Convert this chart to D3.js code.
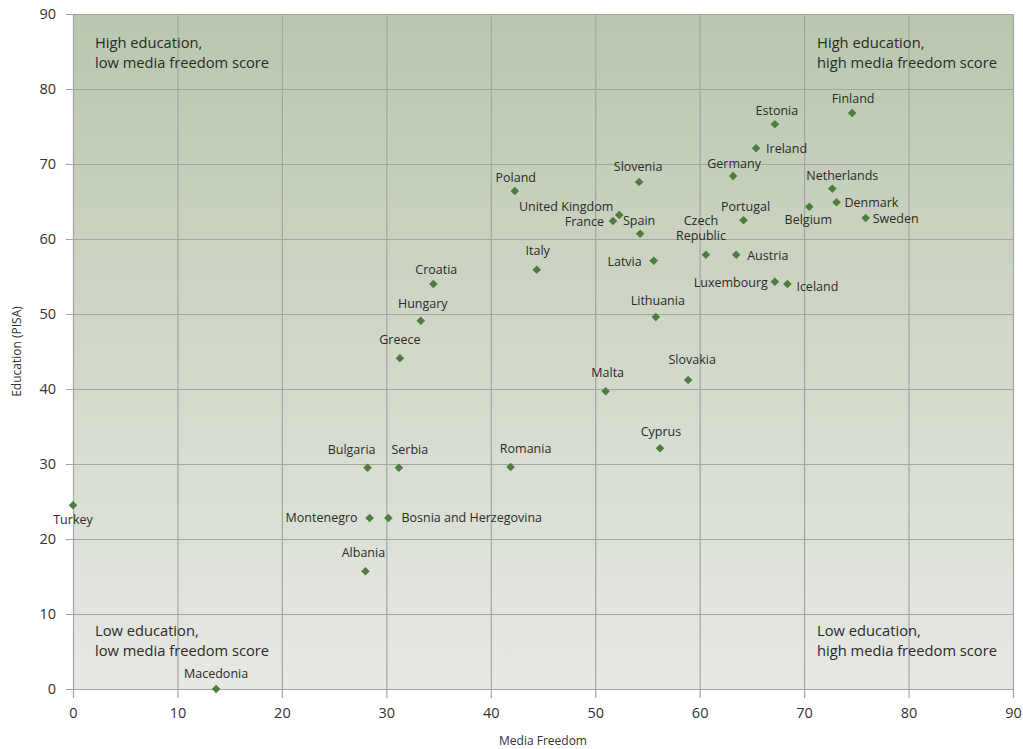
<!DOCTYPE html>
<html>
<head>
<meta charset="utf-8">
<script src="https://cdn.jsdelivr.net/npm/d3@7"></script>
<style>
  html, body { margin: 0; padding: 0; background: #ffffff; }
  svg { display: block; font-family: "Open Sans", "Noto Sans", sans-serif; }
</style>
</head>
<body>
<svg id="chart" width="1023" height="749"></svg>
<script>
// ---- Data ----
const countries = ["Turkey","Macedonia","Albania","Montenegro","Bosnia and Herzegovina","Bulgaria","Serbia","Romania",
  "Greece","Hungary","Croatia","Italy","Poland","United Kingdom","France","Slovenia","Spain","Latvia","Lithuania",
  "Malta","Slovakia","Cyprus","Czech Republic","Austria","Portugal","Germany","Ireland","Estonia","Finland",
  "Luxembourg","Iceland","Belgium","Netherlands","Denmark","Sweden"];
const mediaFreedom = [0.0,13.7,28.0,28.4,30.2,28.2,31.2,41.9,
  31.3,33.3,34.5,44.4,42.3,52.3,51.7,54.2,54.3,55.6,55.8,
  51.0,58.9,56.2,60.6,63.5,64.2,63.2,65.4,67.2,74.6,
  67.2,68.4,70.5,72.7,73.1,75.9];
const educationPISA = [24.5,0.0,15.7,22.8,22.8,29.5,29.5,29.6,
  44.1,49.1,54.0,55.9,66.4,63.2,62.4,67.6,60.7,57.1,49.6,
  39.7,41.2,32.1,57.9,57.9,62.5,68.4,72.1,75.3,76.8,
  54.3,54.0,64.3,66.7,64.9,62.8];
const xTicks = [0,10,20,30,40,50,60,70,80,90];
const yTicks = [0,10,20,30,40,50,60,70,80,90];
const xTitle = "Media Freedom";
const yTitle = "Education (PISA)";
const quadrantLabels = [
  ["High education,", "low media freedom score"],
  ["High education,", "high media freedom score"],
  ["Low education,", "low media freedom score"],
  ["Low education,", "high media freedom score"]
];

// ---- Label placement (style, not data): [anchor, dx, dy] ----
const place = {
  "Turkey": ["middle", 0, 19], "Macedonia": ["middle", 0, -11], "Albania": ["middle", -2, -14],
  "Montenegro": ["end", -12, 4], "Bosnia and Herzegovina": ["start", 13, 4], "Bulgaria": ["end", 8, -14],
  "Serbia": ["middle", 11, -14], "Romania": ["middle", 15, -14], "Greece": ["middle", 0, -14],
  "Hungary": ["middle", 2, -13], "Croatia": ["middle", 3, -10], "Italy": ["middle", 1, -15],
  "Poland": ["middle", 1, -9], "United Kingdom": ["end", -6, -4], "France": ["end", -9, 5],
  "Slovenia": ["middle", -1, -11], "Spain": ["middle", -1, -9], "Latvia": ["end", -12, 5],
  "Lithuania": ["middle", 2, -12], "Malta": ["middle", 2, -14], "Slovakia": ["middle", 4, -16],
  "Cyprus": ["middle", 1, -12], "Czech Republic": ["middle", -5, -30], "Austria": ["start", 11, 5],
  "Portugal": ["middle", 2, -9], "Germany": ["middle", 1, -8], "Ireland": ["start", 10, 5],
  "Estonia": ["middle", 2, -9], "Finland": ["middle", 1, -10], "Luxembourg": ["end", -7, 5],
  "Iceland": ["start", 9, 7], "Belgium": ["middle", -1, 17], "Netherlands": ["middle", 10, -9],
  "Denmark": ["start", 8, 5], "Sweden": ["start", 7, 5]
};

// ---- Layout ----
const W = 1023, H = 749;
const margin = {top: 14, right: 10, bottom: 60, left: 73};
const svg = d3.select("#chart");
const x = d3.scaleLinear().domain([0, 90]).range([margin.left, W - margin.right]);
const y = d3.scaleLinear().domain([0, 90]).range([H - margin.bottom, margin.top]);

// background gradient
const defs = svg.append("defs");
const grad = defs.append("linearGradient").attr("id", "bg").attr("x1", 0).attr("y1", 0).attr("x2", 0).attr("y2", 1);
grad.append("stop").attr("offset", "0%").attr("stop-color", "#b9c7ae");
grad.append("stop").attr("offset", "55%").attr("stop-color", "#d3dacb");
grad.append("stop").attr("offset", "100%").attr("stop-color", "#e6e8e4");
svg.append("rect")
  .attr("x", x(0)).attr("y", y(90))
  .attr("width", x(90) - x(0)).attr("height", y(0) - y(90))
  .attr("fill", "url(#bg)");

const gridColor = "#a3a5a3";
// x axis with grid
const xAxis = svg.append("g")
  .attr("transform", `translate(0,${y(0)})`)
  .call(d3.axisBottom(x).tickValues(xTicks).tickSize(-(y(0) - y(90))).tickSizeOuter(0).tickPadding(19));
xAxis.select(".domain").remove();
xAxis.selectAll(".tick line").attr("stroke", gridColor).attr("stroke-width", 1.2).attr("y2", -(y(0) - y(90))).attr("y1", 9);
xAxis.selectAll(".tick text").attr("fill", "#333").attr("font-size", 14.5).attr("font-family", "Open Sans, sans-serif");

const yAxis = svg.append("g")
  .attr("transform", `translate(${x(0)},0)`)
  .call(d3.axisLeft(y).tickValues(yTicks).tickSize(-(x(90) - x(0))).tickSizeOuter(0).tickPadding(17));
yAxis.select(".domain").remove();
yAxis.selectAll(".tick line").attr("stroke", gridColor).attr("stroke-width", 1.2).attr("x1", -7).attr("x2", x(90) - x(0));
yAxis.selectAll(".tick text").attr("fill", "#333").attr("font-size", 14.5).attr("font-family", "Open Sans, sans-serif");

// axis titles
svg.append("text")
  .attr("x", (x(0) + x(90)) / 2).attr("y", H - 4)
  .attr("text-anchor", "middle").attr("font-size", 12).attr("fill", "#333")
  .text(xTitle);
svg.append("text")
  .attr("transform", `translate(21,${(y(0) + y(90)) / 2}) rotate(-90)`)
  .attr("text-anchor", "middle").attr("font-size", 12).attr("fill", "#333")
  .text(yTitle);

// quadrant labels
const qPos = [[x(0) + 22, y(90) + 34], [x(70) + 13, y(90) + 34], [x(0) + 22, y(10) + 22], [x(70) + 13, y(10) + 22]];
quadrantLabels.forEach((lines, i) => {
  const t = svg.append("text").attr("font-size", 14.7).attr("fill", "#2a2a2a");
  lines.forEach((ln, j) => {
    t.append("tspan").attr("x", qPos[i][0]).attr("y", qPos[i][1] + j * 19.5).text(ln);
  });
});

// points
const data = countries.map((c, i) => ({name: c, mx: mediaFreedom[i], ed: educationPISA[i]}));
const diamond = "M0,-4.3L4.3,0L0,4.3L-4.3,0Z";
svg.append("g").selectAll("path").data(data).join("path")
  .attr("d", diamond)
  .attr("transform", d => `translate(${x(d.mx)},${y(d.ed)})`)
  .attr("fill", "#4f7d40");

// labels
const lg = svg.append("g").attr("font-size", 12.5).attr("fill", "#2a2a2a");
data.forEach(d => {
  const p = place[d.name];
  const t = lg.append("text")
    .attr("text-anchor", p[0])
    .attr("x", x(d.mx) + p[1])
    .attr("y", y(d.ed) + p[2]);
  if (d.name === "Czech Republic") {
    t.append("tspan").attr("x", x(d.mx) + p[1]).attr("dy", 0).text("Czech");
    t.append("tspan").attr("x", x(d.mx) + p[1]).attr("dy", 15).text("Republic");
  } else {
    t.text(d.name);
  }
});
</script>
</body>
</html>
